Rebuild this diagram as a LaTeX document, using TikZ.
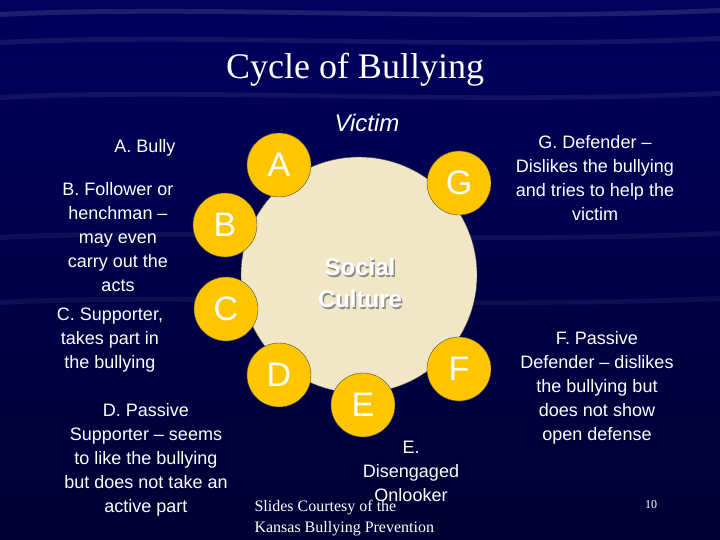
\documentclass[tikz,border=0pt]{standalone}
\usepackage{fontspec}
\setmainfont{Liberation Serif}
\setsansfont{Liberation Sans}
\definecolor{navy}{HTML}{00005E}
\definecolor{deepnavy}{HTML}{000033}
\definecolor{culture}{HTML}{F1E6C6}
\definecolor{role}{HTML}{FFC600}
\tikzset{
    role/.style={circle, fill=role, draw=black!70, thin, minimum size=64pt, inner sep=0pt,
        text=white, font=\sffamily\fontsize{34}{34}\selectfont},
    label/.style={text=white, align=center, font=\sffamily\fontsize{18}{24}\selectfont},
    credit/.style={text=white, anchor=west, font=\fontsize{16}{18}\selectfont},
    culturetext/.style={align=center, font=\sffamily\bfseries\fontsize{24}{32}\selectfont}
}
\begin{document}
\begin{tikzpicture}[x=1pt,y=-1pt]
    \useasboundingbox (0,0) rectangle (720,540);
    % Background
    \shade[top color=navy, bottom color=deepnavy] (0,0) rectangle (720,540);
    \foreach \y/\o in {12/0.12, 40/0.08, 95/0.07, 235/0.06, 300/0.05} {
        \fill[white, opacity=\o] (0,\y) .. controls (200,\y-10) and (450,\y+8) .. (720,\y-4)
            -- (720,\y+1) .. controls (450,\y+12) and (200,\y-5) .. (0,\y+5) -- cycle;
    }
    % Title
    \node[text=white, font=\fontsize{36}{40}\selectfont] (title) at (355,70) {Cycle of Bullying};
    \node[text=white, font=\sffamily\itshape\fontsize{24}{28}\selectfont] (victim) at (367,123) {Victim};
    % Centre
    \node[circle, fill=culture, draw=black!70, thin, minimum size=236pt] (culture) at (359,275) {};
    \node[culturetext, text=black!45] (shadow) at (361.5,285) {Social\\Culture};
    \node[culturetext, text=white] (social) at (360,283) {Social\\Culture};
    % Roles
    \foreach \name/\x/\y in {A/279/165, B/225/225, C/226/309, D/279/375, E/363/405, F/459/369, G/459/183} {
        \node[role] (\name) at (\x,\y) {\name};
    }
    % Descriptions
    \node[label] (bully) at (145,148) {A. Bully};
    \node[label] (follower) at (118,237) {B. Follower or\\henchman --\\may even\\carry out the\\acts};
    \node[label] (supporter) at (110,340) {C. Supporter,\\takes part in\\the bullying};
    \node[label] (passive) at (146,460) {D. Passive\\Supporter -- seems\\to like the bullying\\but does not take an\\active part};
    \node[label] (onlooker) at (411,471) {E.\\Disengaged\\Onlooker};
    \node[label] (pdefender) at (597,388) {F. Passive\\Defender -- dislikes\\the bullying but\\does not show\\open defense};
    \node[label] (defender) at (595,178) {G. Defender --\\Dislikes the bullying\\and tries to help the\\victim};
    % Credit
    \node[credit] (credit1) at (251,508) {Slides Courtesy of the};
    \node[credit] (credit2) at (251,529) {Kansas Bullying Prevention};
    \node[text=white, font=\fontsize{12}{14}\selectfont] (page) at (651,505) {10};
\end{tikzpicture}
\end{document}
